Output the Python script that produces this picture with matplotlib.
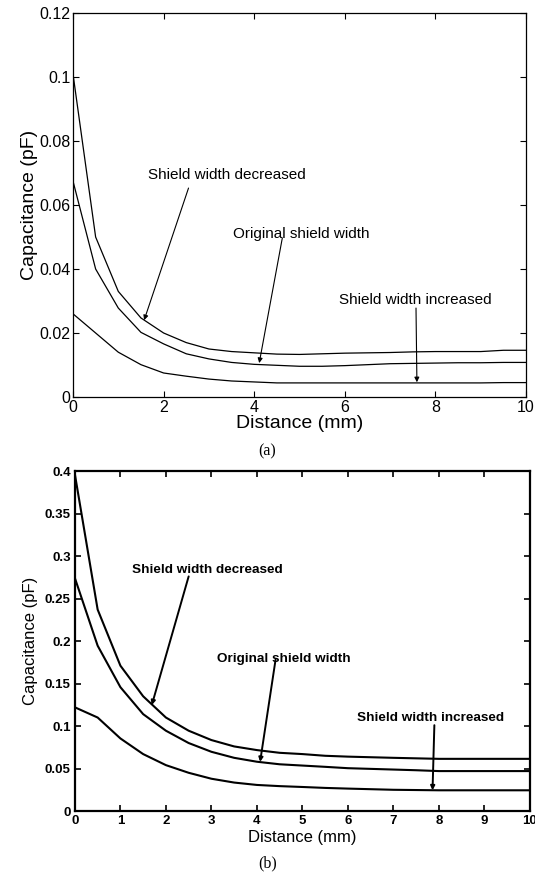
import matplotlib
matplotlib.use("Agg")
import matplotlib.pyplot as plt
import numpy as np

distance = np.arange(0, 10.01, 0.5)

# panel (a)
a_decreased = [0.101, 0.050, 0.033, 0.0247, 0.020, 0.017, 0.015, 0.0142, 0.0138, 0.0134, 0.0133,
               0.0135, 0.0137, 0.0138, 0.0139, 0.0141, 0.0142, 0.0142, 0.0142, 0.0146, 0.0146]
a_original = [0.0675, 0.040, 0.0278, 0.0202, 0.0166, 0.0135, 0.0119, 0.0108, 0.0102, 0.0099, 0.0096,
              0.0096, 0.0098, 0.0101, 0.0104, 0.0105, 0.0106, 0.0107, 0.0107, 0.0108, 0.0108]
a_increased = [0.026, 0.020, 0.014, 0.0101, 0.0075, 0.0065, 0.0056, 0.0050, 0.0047, 0.0044, 0.0044,
               0.0044, 0.0044, 0.0044, 0.0044, 0.0044, 0.0044, 0.0044, 0.0044, 0.0045, 0.0045]

# panel (b)
b_decreased = [0.396, 0.237, 0.171, 0.135, 0.110, 0.0945, 0.0835, 0.076, 0.0717, 0.0685, 0.067,
               0.065, 0.064, 0.0633, 0.0626, 0.062, 0.0614, 0.0614, 0.0614, 0.0614, 0.0614]
b_original = [0.274, 0.1945, 0.1457, 0.114, 0.0945, 0.080, 0.0697, 0.0626, 0.058, 0.055, 0.0535,
              0.052, 0.0504, 0.0496, 0.0488, 0.048, 0.047, 0.047, 0.047, 0.047, 0.047]
b_increased = [0.122, 0.110, 0.0854, 0.067, 0.054, 0.045, 0.038, 0.0335, 0.0307, 0.0293, 0.0283,
               0.0272, 0.0264, 0.0257, 0.025, 0.0247, 0.0244, 0.0244, 0.0244, 0.0244, 0.0244]

a_yticks = [0, 0.02, 0.04, 0.06, 0.08, 0.1, 0.12]
b_yticks = [0, 0.05, 0.1, 0.15, 0.2, 0.25, 0.3, 0.35, 0.4]
labels = ["Shield width decreased", "Original shield width", "Shield width increased"]

plt.rcParams["font.family"] = ["Liberation Sans", "DejaVu Sans"]

fig = plt.figure(figsize=(5.35, 8.75), dpi=100)

# ---- (a)
ax1 = fig.add_axes([0.1364, 0.5463, 0.847, 0.4388])
for y in (a_decreased, a_original, a_increased):
    ax1.plot(distance, y, color="k", lw=0.9)
ax1.set_xlim(0, 10)
ax1.set_ylim(0, 0.12)
ax1.set_xticks([0, 2, 4, 6, 8, 10])
ax1.set_yticks(a_yticks)
ax1.set_yticklabels(["%g" % v for v in a_yticks])
ax1.tick_params(direction="in", top=True, right=True, length=4, width=0.8,
                labelsize=11.5, pad=2)
for s in ax1.spines.values():
    s.set_linewidth(0.9)
ax1.set_xlabel("Distance (mm)", fontsize=14, labelpad=0)
ax1.set_ylabel("Capacitance (pF)", fontsize=14, labelpad=1)

arrow_a = dict(arrowstyle="-|>", mutation_scale=7, lw=0.8, color="k", shrinkA=0, shrinkB=0)
ax1.text(1.65, 0.0695, labels[0], fontsize=11, va="center")
ax1.annotate("", xy=(1.57, 0.024), xytext=(2.55, 0.0653), arrowprops=arrow_a)
ax1.text(3.54, 0.051, labels[1], fontsize=11, va="center")
ax1.annotate("", xy=(4.11, 0.0106), xytext=(4.62, 0.0497), arrowprops=arrow_a)
ax1.text(5.88, 0.0304, labels[2], fontsize=11, va="center")
ax1.annotate("", xy=(7.59, 0.0046), xytext=(7.57, 0.0278), arrowprops=arrow_a)

fig.text(0.5, 1 - 451 / 875, "(a)", ha="center", va="center",
         fontsize=11.5, family="Liberation Serif")

# ---- (b)
ax2 = fig.add_axes([0.140, 0.0731, 0.8505, 0.3886])
for y in (b_decreased, b_original, b_increased):
    ax2.plot(distance, y, color="k", lw=1.5)
ax2.set_xlim(0, 10)
ax2.set_ylim(0, 0.4)
ax2.set_xticks(range(11))
ax2.set_yticks(b_yticks)
ax2.set_yticklabels(["%g" % v for v in b_yticks])
ax2.tick_params(direction="in", top=True, right=True, length=4, width=1.2,
                labelsize=9.5, pad=3)
for lab in ax2.get_xticklabels() + ax2.get_yticklabels():
    lab.set_fontweight("bold")
for s in ax2.spines.values():
    s.set_linewidth(1.6)
ax2.set_xlabel("Distance (mm)", fontsize=12, labelpad=2)
ax2.set_ylabel("Capacitance (pF)", fontsize=12, labelpad=5)

arrow_b = dict(arrowstyle="-|>", mutation_scale=6, lw=1.4, color="k", shrinkA=0, shrinkB=0)
ax2.text(1.26, 0.284, labels[0], fontsize=9.7, fontweight="bold", va="center")
ax2.annotate("", xy=(1.69, 0.1247), xytext=(2.50, 0.276), arrowprops=arrow_b)
ax2.text(3.12, 0.1786, labels[1], fontsize=9.7, fontweight="bold", va="center")
ax2.annotate("", xy=(4.07, 0.0578), xytext=(4.41, 0.178), arrowprops=arrow_b)
ax2.text(6.2, 0.110, labels[2], fontsize=9.7, fontweight="bold", va="center")
ax2.annotate("", xy=(7.86, 0.0244), xytext=(7.9, 0.101), arrowprops=arrow_b)

fig.text(0.5, 1 - 863 / 875, "(b)", ha="center", va="center",
         fontsize=11.5, family="Liberation Serif")

fig.savefig("out.png", dpi=100)
